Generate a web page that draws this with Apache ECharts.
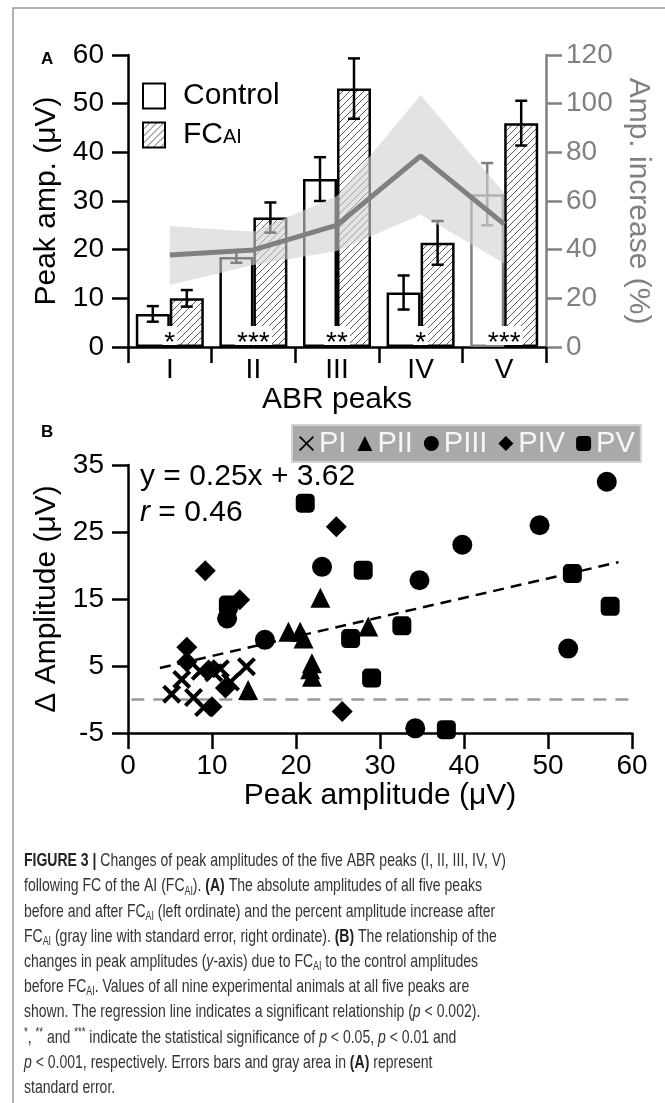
<!DOCTYPE html>
<html><head><meta charset="utf-8">
<script src="https://cdn.jsdelivr.net/npm/echarts@6.0.0/dist/echarts.min.js"></script>
<style>html,body{margin:0;padding:0;background:#fff}#c{width:665px;height:1103px}</style>
</head><body><div id="c"></div>
<script>
// ---------------- data ----------------
const categories = ['I', 'II', 'III', 'IV', 'V'];
const controlMean = [6.8, 18.5, 34.5, 11.2, 31.4];
const controlErr  = [1.6, 1.2, 4.5, 3.5, 6.4];
const fcMean      = [10.0, 26.6, 53.1, 21.4, 46.0];
const fcErr       = [1.7, 3.1, 6.2, 4.5, 4.6];
const significance = ['*', '***', '**', '*', '***'];
const increaseMean  = [37.8, 39.9, 50.1, 78.5, 50.5];
const increaseUpper = [49.7, 47.4, 62.1, 103.6, 63.2];
const increaseLower = [25.5, 33.7, 39.5, 54.3, 34.4];

const ampTicks      = [0, 10, 20, 30, 40, 50, 60];
const increaseTicks = [0, 20, 40, 60, 80, 100, 120];
const deltaTicks    = [-5, 5, 15, 25, 35];
const peakTicks     = [0, 10, 20, 30, 40, 50, 60];

const pIx = [5.2, 6.4, 7.8, 9.0, 10.2, 11.0, 12.2, 14.1, 8.6];
const pIy = [0.8, 3.0, 0.3, -1.2, 4.0, 4.6, 2.6, 4.9, 4.2];
const pIIx = [14.3, 19.1, 20.5, 20.9, 21.7, 21.9, 21.9, 22.9, 28.6];
const pIIy = [1.4, 10.1, 10.1, 9.1, 4.5, 5.4, 3.4, 15.2, 10.9];
const pIIIx = [11.8, 16.3, 23.1, 34.2, 34.7, 39.8, 49.0, 52.4, 57.0];
const pIIIy = [12.1, 8.9, 19.8, -4.3, 17.8, 23.1, 26.0, 7.6, 32.5];
const pIVx = [7.0, 7.0, 9.2, 9.6, 10.0, 11.6, 13.3, 24.8, 25.5];
const pIVy = [7.8, 5.6, 19.2, 4.4, -1.1, 1.7, 14.9, 25.8, -1.8];
const pVx = [11.95, 21.1, 26.5, 28.0, 29.0, 32.6, 37.9, 52.9, 57.4];
const pVy = [14.1, 29.3, 9.1, 19.3, 3.2, 11.0, -4.5, 18.8, 13.9];

const regressionX = [3.8, 58.4];
const regressionY = [4.7, 20.5];
const zeroLineX = [0.4, 60];
const zeroLineY = [0, 0];

// ---------------- styles ----------------
const FONT = '"Liberation Sans", Arial, Helvetica, sans-serif';
const GRAY = '#808080';
const BAR_W = 34;
const CAP = 12;
const GRAY_BAR_INDEX = 4;
const X_PATH = 'path://M3,0 L10,7 L17,0 L20,3 L13,10 L20,17 L17,20 L10,13 L3,20 L0,17 L7,10 L0,3 Z';
const X_THIN = 'path://M1.6,0 L10,8.4 L18.4,0 L20,1.6 L11.6,10 L20,18.4 L18.4,20 L10,11.6 L1.6,20 L0,18.4 L8.4,10 L0,1.6 Z';

function zip(a, b) { return a.map((v, i) => [v, b[i]]); }
function axisRange(t) { return { min: t[0], max: t[t.length - 1], interval: t[1] - t[0] }; }

// hatch pattern
const hatch = document.createElement('canvas');
hatch.width = 7; hatch.height = 7;
(function () {
  const c = hatch.getContext('2d');
  c.fillStyle = '#fff'; c.fillRect(0, 0, 7, 7);
  c.strokeStyle = '#5a5a5a'; c.lineWidth = 1;
  c.beginPath();
  c.moveTo(-1, 8); c.lineTo(8, -1);
  c.moveTo(-1, 1); c.lineTo(1, -1);
  c.moveTo(6, 8); c.lineTo(8, 6);
  c.stroke();
})();

function errorBars(means, errs, side) {
  return {
    type: 'custom', xAxisIndex: 0, yAxisIndex: 0, z: 3, silent: true,
    data: means.map((m, i) => [i, m, errs[i]]),
    renderItem: function (params, api) {
      const i = api.value(0), m = api.value(1), e = api.value(2);
      const cx = api.coord([i, m])[0] + side * BAR_W / 2;
      const yT = api.coord([i, m + e])[1], yB = api.coord([i, m - e])[1];
      const color = (side < 0 && params.dataIndex === GRAY_BAR_INDEX) ? GRAY : '#000';
      const st = { stroke: color, lineWidth: 2.5 };
      return { type: 'group', children: [
        { type: 'line', shape: { x1: cx, y1: yT, x2: cx, y2: yB }, style: st },
        { type: 'line', shape: { x1: cx - CAP / 2, y1: yT, x2: cx + CAP / 2, y2: yT }, style: st },
        { type: 'line', shape: { x1: cx - CAP / 2, y1: yB, x2: cx + CAP / 2, y2: yB }, style: st }
      ] };
    }
  };
}

function axisCommon(color) {
  return {
    axisLine: { show: true, onZero: false, lineStyle: { color: color, width: 2.5 } },
    axisTick: { show: true, inside: false, length: 16, lineStyle: { color: color, width: 2.5 } },
    splitLine: { show: false },
    nameTextStyle: { fontSize: 30, fontFamily: FONT, color: color }
  };
}

const ampR = axisRange(ampTicks), incR = axisRange(increaseTicks);
const dR = axisRange(deltaTicks), pR = axisRange(peakTicks);

// caption
const capRich = {
  b: { fontFamily: FONT, fontSize: 19, fontWeight: 'bold', fill: '#222', lineHeight: 22 },
  i: { fontFamily: FONT, fontSize: 19, fontStyle: 'italic', fill: '#333', lineHeight: 22 },
  s: { fontFamily: FONT, fontSize: 12, fill: '#333', lineHeight: 12, verticalAlign: 'bottom' },
  u: { fontFamily: FONT, fontSize: 13, fill: '#333', lineHeight: 13, verticalAlign: 'top' }
};
const captionLines = [
  '{b|FIGURE 3 |} Changes of peak amplitudes of the five ABR peaks (I, II, III, IV, V)',
  'following FC of the AI (FC{s|AI}). {b|(A)} The absolute amplitudes of all five peaks',
  'before and after FC{s|AI} (left ordinate) and the percent amplitude increase after',
  'FC{s|AI} (gray line with standard error, right ordinate). {b|(B)} The relationship of the',
  'changes in peak amplitudes ({i|y}-axis) due to FC{s|AI} to the control amplitudes',
  'before FC{s|AI}. Values of all nine experimental animals at all five peaks are',
  'shown. The regression line indicates a significant relationship ({i|p} < 0.002).',
  '{u|*}, {u|**} and {u|***} indicate the statistical significance of {i|p} < 0.05, {i|p} < 0.01 and',
  '{i|p} < 0.001, respectively. Errors bars and gray area in {b|(A)} represent',
  'standard error.'
];
const mctx = document.createElement('canvas').getContext('2d');
mctx.font = '19px "Liberation Sans"';
const plain1 = 'FIGURE 3 | Changes of peak amplitudes of the five ABR peaks (I, II, III, IV, V)';
const capScale = 486 / (mctx.measureText(plain1).width + 6);

const captionGroup = {
  type: 'group', x: 24, y: 0, scaleX: capScale,
  children: captionLines.map((t, k) => ({
    type: 'text', x: 0, y: 861 + k * 25.2,
    style: { text: t, rich: capRich, fontFamily: FONT, fontSize: 19, fill: '#333',
             lineHeight: 22, verticalAlign: 'middle', align: 'left' }
  }))
};

const scatterStyle = { color: '#000', opacity: 1 };

const chart = echarts.init(document.getElementById('c'), null, { renderer: 'canvas' });
const option = {
  animation: false,
  backgroundColor: '#fff',
  textStyle: { fontFamily: FONT },
  grid: [
    { left: 128, right: 119, top: 55, bottom: 756 },
    { left: 128, right: 33, top: 465, bottom: 370 }
  ],
  xAxis: [
    Object.assign(axisCommon('#000'), {
      type: 'category', gridIndex: 0, data: categories, boundaryGap: true,
      axisTick: { show: true, length: 16, alignWithLabel: false, interval: 0, lineStyle: { color: '#000', width: 2.5 } },
      axisLabel: { fontSize: 28, color: '#000', margin: 9, fontFamily: FONT },
      name: 'ABR peaks', nameLocation: 'middle', nameGap: 33
    }),
    Object.assign(axisCommon('#000'), {
      type: 'value', gridIndex: 1, min: pR.min, max: pR.max, interval: pR.interval,
      axisLabel: { fontSize: 28, color: '#000', margin: 19, fontFamily: FONT },
      name: 'Peak amplitude (μV)', nameLocation: 'middle', nameGap: 48
    })
  ],
  yAxis: [
    Object.assign(axisCommon('#000'), {
      type: 'value', gridIndex: 0, position: 'left', min: ampR.min, max: ampR.max, interval: ampR.interval,
      axisLabel: { fontSize: 28, color: '#000', margin: 24, fontFamily: FONT },
      name: 'Peak amp. (μV)', nameLocation: 'middle', nameGap: 66
    }),
    Object.assign(axisCommon(GRAY), {
      type: 'value', gridIndex: 0, position: 'right', min: incR.min, max: incR.max, interval: incR.interval,
      axisLabel: { fontSize: 28, color: GRAY, margin: 20, fontFamily: FONT },
      name: 'Amp. increase (%)', nameLocation: 'middle', nameGap: 66, nameRotate: -90
    }),
    Object.assign(axisCommon('#000'), {
      type: 'value', gridIndex: 1, min: dR.min, max: dR.max, interval: dR.interval,
      axisLabel: { fontSize: 28, color: '#000', margin: 24, fontFamily: FONT },
      name: 'Δ Amplitude (μV)', nameLocation: 'middle', nameGap: 66
    })
  ],
  legend: [
    {
      left: 142, top: 81, orient: 'vertical', padding: 0, itemGap: 9,
      itemWidth: 22, itemHeight: 25, selectedMode: false, icon: 'rect',
      data: ['Control', 'FCAI'],
      formatter: n => n === 'FCAI' ? 'FC{s|AI}' : n,
      textStyle: { fontSize: 30, color: '#000', fontFamily: FONT, lineHeight: 25, padding: [0, 0, 0, 13],
        rich: { s: { fontSize: 20, fontFamily: FONT, color: '#000', verticalAlign: 'bottom', lineHeight: 18 } } }
    },
    {
      left: 292, top: 425, orient: 'horizontal', padding: [3, 6, 3, 7], itemGap: 11,
      itemWidth: 15, itemHeight: 15, selectedMode: false,
      backgroundColor: '#a9a9a9', borderColor: '#d2d2d2', borderWidth: 2,
      data: [{ name: 'PI', icon: X_THIN }, 'PII', 'PIII', 'PIV', 'PV'],
      itemStyle: { opacity: 1 },
      textStyle: { fontSize: 29, color: '#f6f6f6', fontFamily: FONT, lineHeight: 31 }
    }
  ],
  series: [
    { type: 'bar', name: 'Control', xAxisIndex: 0, yAxisIndex: 0, barWidth: BAR_W, barGap: '0%', z: 2,
      data: controlMean.map((v, i) => i === GRAY_BAR_INDEX ? { value: v, itemStyle: { borderColor: GRAY } } : v),
      itemStyle: { color: '#fff', borderColor: '#000', borderWidth: 2.5 } },
    { type: 'bar', name: 'FCAI', xAxisIndex: 0, yAxisIndex: 0, barWidth: BAR_W, barGap: '0%', z: 2,
      data: fcMean,
      itemStyle: { color: { image: hatch, repeat: 'repeat' }, borderColor: '#000', borderWidth: 2.5 } },
    errorBars(controlMean, controlErr, -1),
    errorBars(fcMean, fcErr, 1),
    { type: 'line', xAxisIndex: 0, yAxisIndex: 1, stack: 'band', data: increaseLower, symbol: 'none',
      lineStyle: { opacity: 0 }, z: 4, silent: true },
    { type: 'line', xAxisIndex: 0, yAxisIndex: 1, stack: 'band', symbol: 'none',
      data: increaseUpper.map((u, i) => +(u - increaseLower[i]).toFixed(2)),
      lineStyle: { opacity: 0 }, areaStyle: { color: 'rgba(210,210,210,0.61)', opacity: 1 }, z: 4, silent: true },
    { type: 'line', xAxisIndex: 0, yAxisIndex: 1, data: increaseMean, symbol: 'none',
      lineStyle: { color: GRAY, width: 5 }, z: 5, silent: true },
    { type: 'custom', xAxisIndex: 0, yAxisIndex: 0, z: 6, silent: true,
      data: categories.map((c, i) => [i, 0]),
      renderItem: function (params, api) {
        const p = api.coord([api.value(0), 0]);
        const txt = significance[params.dataIndex];
        const w = txt.length * 11 + 4;
        return { type: 'group', children: [
          { type: 'rect', shape: { x: p[0] - w / 2, y: p[1] - 21, width: w, height: 19 }, style: { fill: '#fff' } },
          { type: 'text', x: p[0], y: p[1] - 4,
            style: { text: txt, fontSize: 28, fontFamily: FONT, fill: '#000', align: 'center', verticalAlign: 'middle' } }
        ] };
      } },
    { type: 'line', xAxisIndex: 1, yAxisIndex: 2, data: zip(zeroLineX, zeroLineY), symbol: 'none',
      lineStyle: { color: '#9a9a9a', width: 2.5, type: [13, 9] }, z: 3, silent: true },
    { type: 'line', xAxisIndex: 1, yAxisIndex: 2, data: zip(regressionX, regressionY), symbol: 'none',
      lineStyle: { color: '#000', width: 2.5, type: [11, 7] }, z: 3, silent: true },
    { type: 'scatter', name: 'PI', xAxisIndex: 1, yAxisIndex: 2, data: zip(pIx, pIy), symbol: X_PATH, symbolSize: 19, itemStyle: scatterStyle, z: 5 },
    { type: 'scatter', name: 'PII', xAxisIndex: 1, yAxisIndex: 2, data: zip(pIIx, pIIy), symbol: 'triangle', symbolSize: 20, itemStyle: scatterStyle, z: 5 },
    { type: 'scatter', name: 'PIII', xAxisIndex: 1, yAxisIndex: 2, data: zip(pIIIx, pIIIy), symbol: 'circle', symbolSize: 20, itemStyle: scatterStyle, z: 5 },
    { type: 'scatter', name: 'PIV', xAxisIndex: 1, yAxisIndex: 2, data: zip(pIVx, pIVy), symbol: 'diamond', symbolSize: 21, itemStyle: scatterStyle, z: 5 },
    { type: 'scatter', name: 'PV', xAxisIndex: 1, yAxisIndex: 2, data: zip(pVx, pVy), symbol: 'roundRect', symbolSize: 19, itemStyle: scatterStyle, z: 5 }
  ],
  graphic: [
    { type: 'polyline', shape: { points: [[13, 1103], [13, 8], [665, 8]] }, style: { stroke: '#9a9a9a', lineWidth: 1.5, fill: null }, silent: true },
    { type: 'text', x: 41, y: 59, style: { text: 'A', fontFamily: FONT, fontSize: 17, fontWeight: 'bold', fill: '#000', verticalAlign: 'middle' } },
    { type: 'text', x: 41, y: 432, style: { text: 'B', fontFamily: FONT, fontSize: 17, fontWeight: 'bold', fill: '#000', verticalAlign: 'middle' } },
    { type: 'text', x: 140, y: 477, style: { text: 'y = 0.25x + 3.62', fontFamily: FONT, fontSize: 30, fill: '#000', verticalAlign: 'middle' } },
    { type: 'text', x: 140, y: 513, style: { text: '{i|r} = 0.46', fontFamily: FONT, fontSize: 30, fill: '#000', verticalAlign: 'middle',
      rich: { i: { fontFamily: FONT, fontSize: 30, fontStyle: 'italic', fill: '#000' } } } },
    captionGroup
  ]
};
chart.setOption(option);
</script></body></html>
